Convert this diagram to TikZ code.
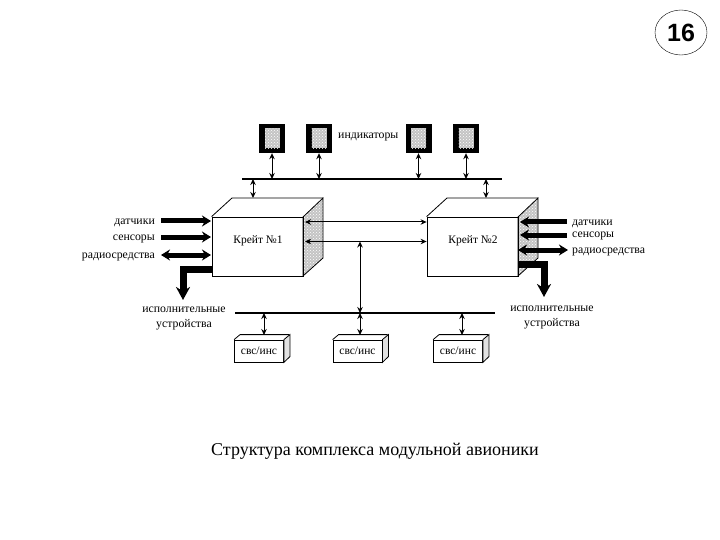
\documentclass[tikz,border=0pt]{standalone}
\usepackage{xcolor}
\usepackage{fontspec}
\setmainfont{Liberation Serif}
\setsansfont{Liberation Sans}
\usetikzlibrary{
  arrows.meta,
  shapes.geometric,
  positioning,
  calc,
  patterns
}
\definecolor{crateGrey}{HTML}{C4C4C4}
\tikzset{
  lbl/.style={font=\fontsize{11.8}{15}\selectfont, inner sep=0pt, align=center, yshift=-2pt},
  crate/.style={draw, thick, minimum width=91pt, minimum height=59pt, inner sep=0pt},
  cratename/.style={font=\fontsize{11.5}{13}\selectfont, inner sep=0pt},
  unit/.style={draw, thick, minimum width=49pt, minimum height=22pt, inner sep=0pt, font=\fontsize{11.5}{13}\selectfont},
  side/.style={draw, thick, preaction={fill=crateGrey}, pattern=crosshatch dots, pattern color=white},
  screen/.style={fill=black, minimum width=26pt, minimum height=29pt, inner sep=0pt},
  panel/.style={preaction={fill=crateGrey}, pattern=crosshatch dots, pattern color=white, minimum width=15pt, minimum height=20pt, inner sep=0pt},
  bus/.style={line width=1.2pt},
  link/.style={{Stealth[length=6pt,width=5.5pt]}-{Stealth[length=6pt,width=5.5pt]}, line width=1pt},
  fat/.style={-{Stealth[length=9pt,width=11pt]}, line width=5pt},
  fatboth/.style={{Stealth[length=9pt,width=11pt]}-{Stealth[length=9pt,width=11pt]}, line width=5pt},
  fatbend/.style={-{Stealth[length=13pt,width=14pt]}, line width=7pt}
}

\begin{document}
\begin{tikzpicture}[x=1pt, y=-1pt]
  \useasboundingbox (0,0) rectangle (720,540);
  \fill[white] (0,0) rectangle (720,540);

  % page number
  \node[draw, ellipse, minimum width=52pt, minimum height=45pt, inner sep=0pt, font=\sffamily\bfseries\fontsize{25}{27}\selectfont] (page) at (681,32.5) {16};

  % screens
  \node[screen] (scrA) at (272,138.5) {};
  \node[screen] (scrB) at (319,138.5) {};
  \node[screen] (scrC) at (418.5,138.5) {};
  \node[screen] (scrD) at (466,138.5) {};
  \node[panel] at (scrA) {};
  \node[panel] at (scrB) {};
  \node[panel] at (scrC) {};
  \node[panel] at (scrD) {};
  \node[lbl, anchor=west] (ind) at (338,135) {индикаторы};

  % buses
  \coordinate (busTopL) at (242,179);
  \coordinate (busTopR) at (502,179);
  \coordinate (busLowL) at (235,313);
  \coordinate (busLowR) at (495,313);
  \draw[bus] (busTopL) -- (busTopR);
  \draw[bus] (busLowL) -- (busLowR);

  % crates
  \draw[side] (303,217) -- (323,198) -- (323,258) -- (303,276) -- cycle;
  \draw[side] (518,217) -- (538,198) -- (538,258) -- (518,276) -- cycle;
  \node[crate] (crateA) at (257.5,246.5) {};
  \node[crate] (crateB) at (472.5,246.5) {};
  \node[cratename] (nameA) at (258,241) {Крейт №1};
  \node[cratename] (nameB) at (473,241) {Крейт №2};
  \draw[thick] (crateA.north west) -- (232,198) -- (323,198);
  \draw[thick] (crateB.north west) -- (447,198) -- (538,198);

  % units
  \node[unit] (unitA) at (259,351) {свс/инс};
  \node[unit] (unitB) at (357.5,351) {свс/инс};
  \node[unit] (unitC) at (458,351) {свс/инс};
  \draw[thick, fill=crateGrey!50] (unitA.north east) -- ++(6,-5) -- ++(0,22) -- (unitA.south east) -- cycle;
  \draw[thick, fill=crateGrey!50] (unitB.north east) -- ++(6,-5) -- ++(0,22) -- (unitB.south east) -- cycle;
  \draw[thick, fill=crateGrey!50] (unitC.north east) -- ++(6,-5) -- ++(0,22) -- (unitC.south east) -- cycle;
  \draw[thick] (unitA.north west) -- ++(6,-5) -- ++(49,0);
  \draw[thick] (unitB.north west) -- ++(6,-5) -- ++(49,0);
  \draw[thick] (unitC.north west) -- ++(6,-5) -- ++(49,0);

  % links to the buses
  \draw[link] (scrA.south) -- (scrA.south |- busTopL);
  \draw[link] (scrB.south) -- (scrB.south |- busTopL);
  \draw[link] (scrC.south) -- (scrC.south |- busTopL);
  \draw[link] (scrD.south) -- (scrD.south |- busTopL);
  \coordinate (upA) at (253,198);
  \coordinate (upB) at (486,198);
  \draw[link] (upA |- busTopL) -- (upA);
  \draw[link] (upB |- busTopL) -- (upB);
  \coordinate (topA) at (264,335);
  \coordinate (topB) at (360,335);
  \coordinate (topC) at (462,335);
  \draw[link] (topA |- busLowL) -- (topA);
  \draw[link] (topB |- busLowL) -- (topB);
  \draw[link] (topC |- busLowL) -- (topC);

  % links between the crates
  \coordinate (sideA) at (305,222);
  \coordinate (sideB) at (305,241.5);
  \draw[link] (sideA) -- (sideA -| crateB.west);
  \draw[link] (sideB) -- (sideB -| crateB.west);
  \coordinate (tee) at (360,241.5);
  \draw[link] (tee) -- (tee |- busLowL);

  % left side
  \node[lbl, anchor=east] (inA) at (155,221) {датчики};
  \node[lbl, anchor=east] (inB) at (155,237) {сенсоры};
  \node[lbl, anchor=east] (inC) at (155,255) {радиосредства};
  \draw[fat] (161,221) -- (211,221);
  \draw[fat] (161,237) -- (211,237);
  \draw[fatboth] (161,255) -- (211,255);
  \node[lbl] (outA) at (184,316.5) {исполнительные\\устройства};
  \draw[fatbend] (crateA.west |- 0,269) -- (183,269) -- (183,300);

  % right side
  \node[lbl, anchor=west] (inD) at (572,222) {датчики};
  \node[lbl, anchor=west] (inE) at (572,234) {сенсоры};
  \node[lbl, anchor=west] (inF) at (572,250) {радиосредства};
  \draw[fat] (567,222) -- (520,222);
  \draw[fat] (567,235) -- (520,235);
  \draw[fatboth] (518,250) -- (568,250);
  \node[lbl] (outB) at (552,315.5) {исполнительные\\устройства};
  \draw[fatbend] (crateB.east |- 0,264) -- (544,264) -- (544,297);

  % caption
  \node[font=\fontsize{18}{20}\selectfont, inner sep=0pt] (cap) at (375,451) {Структура комплекса модульной авионики};
\end{tikzpicture}
\end{document}
